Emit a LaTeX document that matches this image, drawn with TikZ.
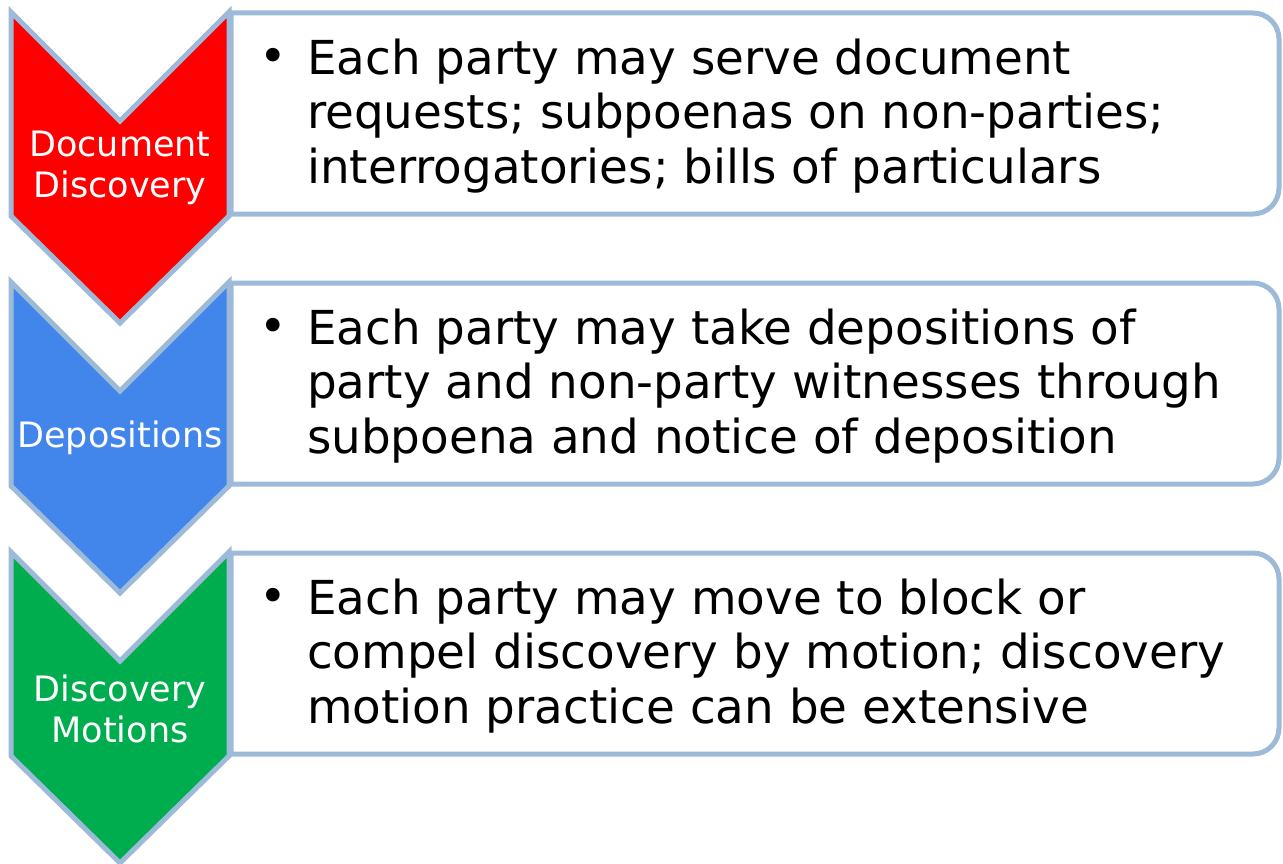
\documentclass[tikz,border=0pt]{standalone}
\usepackage{fontspec}
\setmainfont{DejaVu Sans}
\definecolor{edgeblue}{RGB}{157,187,217}
\definecolor{stepred}{RGB}{255,0,0}
\definecolor{stepblue}{RGB}{66,134,236}
\definecolor{stepgreen}{RGB}{0,173,78}
\tikzset{
  chevronshape/.style={draw=edgeblue, line width=5pt, line join=miter},
  infobox/.style={draw=edgeblue, line width=5pt, fill=white},
  steplabel/.style={text=white, align=center, font=\fontsize{35}{41}\selectfont, inner sep=0pt},
  bodytext/.style={anchor=west, align=left, font=\fontsize{46.8}{54.5}\selectfont, inner sep=0pt},
  bulletmark/.style={font=\fontsize{46.8}{54.5}\selectfont, inner sep=0pt}
}
\newcommand{\stagebox}[1]{%
  \draw[infobox] (231,13+#1) -- (1253,13+#1) arc[start angle=90, end angle=0, radius=26pt]
    -- (1279,188+#1) arc[start angle=0, end angle=-90, radius=26pt] -- (231,214+#1) -- cycle;}
\newcommand{\stagechevron}[2]{%
  \draw[chevronshape, fill=#2] (11,12+#1) -- (120,121+#1) -- (229,12+#1) -- (229,216+#1)
    -- (120,323+#1) -- (11,216+#1) -- cycle;}
\begin{document}
\begin{tikzpicture}[x=1pt, y=-1pt]
\useasboundingbox (0,0) rectangle (1283,864);
\fill[white] (0,0) rectangle (1283,864);
% stage 1
\stagebox{0}
\stagechevron{0}{stepred}
\node[steplabel] (lab1) at (120,168) {Document\\Discovery};
\node[bulletmark] (b1) at (273,60) {•};
\node[bodytext] (t1) at (307,116) {Each party may serve document\\requests; subpoenas on non-parties;\\interrogatories; bills of particulars};
% stage 2
\stagebox{270}
\stagechevron{270}{stepblue}
\node[steplabel] (lab2) at (120,438) {Depositions};
\node[bulletmark] (b2) at (273,330) {•};
\node[bodytext] (t2) at (307,386) {Each party may take depositions of\\party and non-party witnesses through\\subpoena and notice of deposition};
% stage 3
\stagebox{540}
\stagechevron{540}{stepgreen}
\node[steplabel] (lab3) at (120,709) {Discovery\\Motions};
\node[bulletmark] (b3) at (273,600) {•};
\node[bodytext] (t3) at (307,656) {Each party may move to block or\\compel discovery by motion; discovery\\motion practice can be extensive};
\end{tikzpicture}
\end{document}
